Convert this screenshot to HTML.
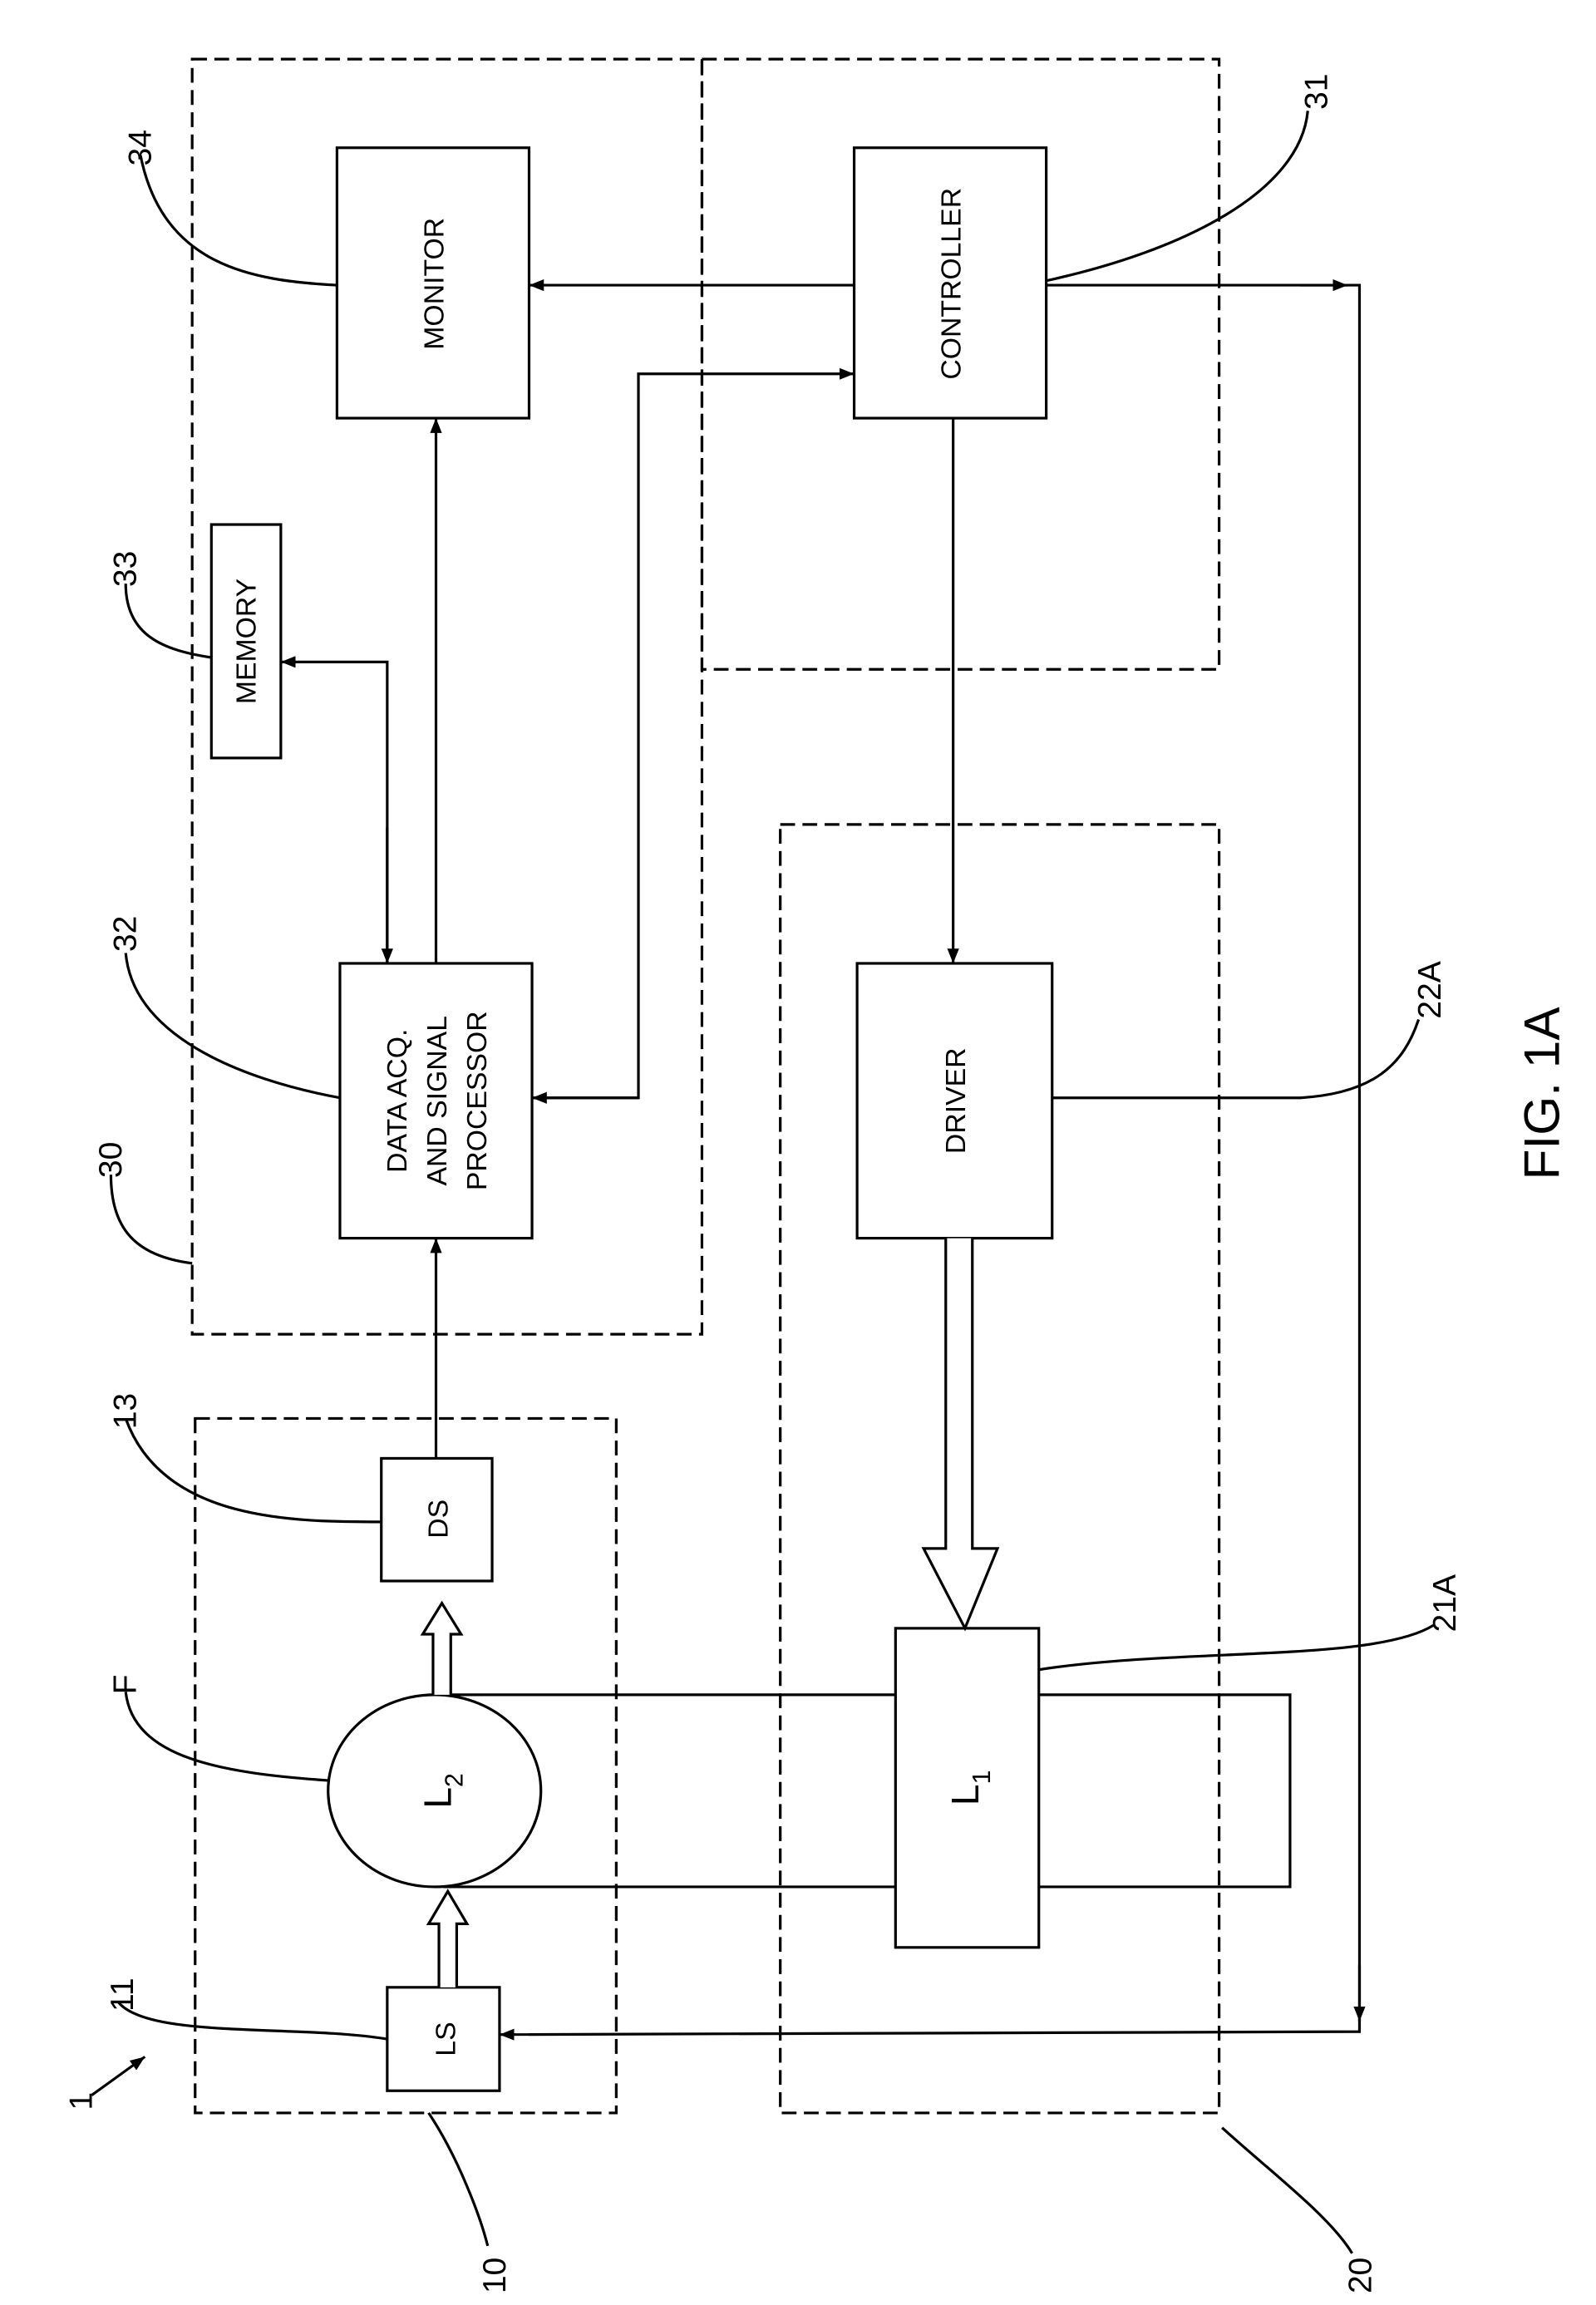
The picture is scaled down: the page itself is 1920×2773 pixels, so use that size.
<!DOCTYPE html>
<html><head><meta charset="utf-8"><style>html,body{margin:0;padding:0;background:#fff}svg{display:block}</style></head>
<body>
<svg width="1920" height="2773" viewBox="0 0 1080 1560" xmlns="http://www.w3.org/2000/svg" font-family="Liberation Sans, sans-serif">
<defs>
<marker id="a" markerWidth="10" markerHeight="8" refX="10" refY="4" orient="auto" markerUnits="userSpaceOnUse"><path d="M0,0 L10,4 L0,8 z" fill="#000"/></marker>
</defs>
<g fill="none" stroke="#000" stroke-width="1.8">
<g stroke-dasharray="10,5">
<rect x="130" y="40" width="345" height="863"/>
<rect x="475" y="40" width="350" height="413"/>
<rect x="132" y="960" width="285" height="470"/>
<rect x="528" y="558" width="297" height="872"/>
</g>
<rect x="228" y="100" width="130" height="183"/>
<rect x="578" y="100" width="130" height="183"/>
<rect x="143" y="355" width="47" height="158"/>
<rect x="230" y="652" width="130" height="186"/>
<rect x="580" y="652" width="132" height="186"/>
<rect x="258" y="987" width="75" height="83"/>
<rect x="262" y="1345" width="76" height="70"/>
<path d="M300 1147 L873 1147 L873 1277 L300 1277"/>
<rect x="606" y="1102" width="97" height="216" fill="#fff"/>
<ellipse cx="294" cy="1212" rx="72" ry="65" fill="#fff"/>
<line x1="578" y1="193" x2="358" y2="193" marker-end="url(#a)"/>
<polyline points="708,193 920,193 920,1375 338,1377" marker-end="url(#a)"/>
<line x1="880" y1="193" x2="912" y2="193" marker-end="url(#a)"/>
<line x1="920" y1="1330" x2="920" y2="1368" marker-end="url(#a)"/>
<polyline points="360,743 432,743 432,253 578,253" marker-end="url(#a)"/>
<line x1="432" y1="743" x2="360" y2="743" marker-end="url(#a)"/>
<line x1="295" y1="652" x2="295" y2="283" marker-end="url(#a)"/>
<polyline points="262,652 262,448 190,448" marker-end="url(#a)"/>
<line x1="262" y1="560" x2="262" y2="652" marker-end="url(#a)"/>
<line x1="295" y1="987" x2="295" y2="838" marker-end="url(#a)"/>
<line x1="645" y1="283" x2="645" y2="652" marker-end="url(#a)"/>
<path d="M640 838 L640 1048 L625 1048 L653 1102 L675 1048 L658 1048 L658 838" fill="#fff"/>
<path d="M297 1345 L297 1302 L290 1302 L303 1280 L316 1302 L309 1302 L309 1345" fill="#fff"/>
<path d="M293 1147 L293 1106 L286 1106 L299 1085 L312 1106 L305 1106 L305 1147" fill="#fff"/>
<path d="M228 193 C170 190 110 180 95 105"/>
<path d="M708 190 C800 170 880 130 885 75"/>
<path d="M143 445 C110 440 85 430 85 395"/>
<path d="M230 743 C160 730 90 700 85 645"/>
<path d="M130 855 C90 850 75 830 75 795"/>
<path d="M712 743 L880 743 C930 740 950 720 960 690"/>
<path d="M258 1030 C200 1030 110 1030 85 960"/>
<path d="M222 1205 C150 1200 90 1190 85 1145"/>
<path d="M703 1130 C800 1115 930 1125 970 1100"/>
<path d="M262 1380 C200 1370 100 1380 80 1355"/>
<path d="M290 1430 C310 1460 325 1500 330 1520"/>
<path d="M827 1440 C860 1470 900 1500 915 1525"/>
<line x1="62" y1="1418" x2="98" y2="1392" marker-end="url(#a)"/>
</g>
<g font-size="19" text-anchor="middle" fill="#000">
<text transform="translate(300,192) rotate(-90)">MONITOR</text>
<text transform="translate(650,192) rotate(-90)">CONTROLLER</text>
<text transform="translate(173,434) rotate(-90)">MEMORY</text>
<text transform="translate(275,745) rotate(-90)">DATA ACQ.</text>
<text transform="translate(302,745) rotate(-90)">AND SIGNAL</text>
<text transform="translate(329,745) rotate(-90)">PROCESSOR</text>
<text transform="translate(653,745) rotate(-90)">DRIVER</text>
<text transform="translate(303,1028) rotate(-90)">DS</text>
<text transform="translate(308,1380) rotate(-90)">LS</text>
<text font-size="26" transform="translate(305,1212) rotate(-90)">L<tspan font-size="17" dy="8">2</tspan></text>
<text font-size="26" transform="translate(662,1210) rotate(-90)">L<tspan font-size="17" dy="8">1</tspan></text>
<g font-size="22">
<text transform="translate(102,100) rotate(-90)">34</text>
<text transform="translate(898,62) rotate(-90)">31</text>
<text transform="translate(92,385) rotate(-90)">33</text>
<text transform="translate(92,632) rotate(-90)">32</text>
<text transform="translate(82,785) rotate(-90)">30</text>
<text transform="translate(975,670) rotate(-90)">22A</text>
<text transform="translate(92,955) rotate(-90)">13</text>
<text transform="translate(92,1140) rotate(-90)">F</text>
<text transform="translate(985,1085) rotate(-90)">21A</text>
<text transform="translate(90,1350) rotate(-90)">11</text>
<text transform="translate(62,1422) rotate(-90)">1</text>
<text transform="translate(342,1540) rotate(-90)">10</text>
<text transform="translate(928,1540) rotate(-90)">20</text>
</g>
<text font-size="34" transform="translate(1055,740) rotate(-90)">FIG. 1A</text>
</g>
</svg>
</body></html>
